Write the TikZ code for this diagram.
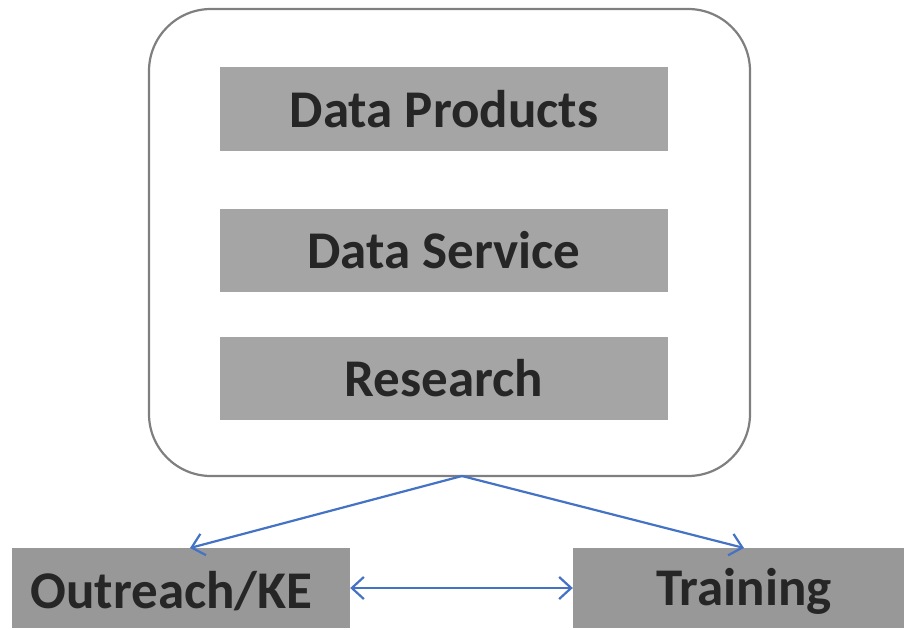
\documentclass[tikz,border=0pt]{standalone}
\usepackage{fontspec}
\setmainfont{Carlito}
\usetikzlibrary{arrows.meta}
\definecolor{boxgray}{HTML}{A5A5A5}
\definecolor{boxgray2}{HTML}{989898}
\definecolor{framegray}{HTML}{7F7F7F}
\definecolor{txt}{HTML}{262626}
\definecolor{arrblue}{HTML}{4472C4}
\tikzset{
  big text/.style={font=\fontsize{53pt}{60pt}\selectfont\bfseries, text=txt},
  inner box/.style={fill=boxgray, draw=none, minimum width=448pt, minimum height=84pt, inner sep=0pt, big text},
  side box/.style={fill=boxgray2, draw=none, minimum height=80pt, inner sep=0pt},
  side text/.style={inner sep=0pt, big text},
  mytip/.tip={Straight Barb[length=12pt,width=22pt,line width=2.2pt]},
  conn/.style={draw=arrblue, line width=2.2pt, -{mytip}},
  conn2/.style={draw=arrblue, line width=2.2pt, {mytip}-{mytip}}
}
\begin{document}
\begin{tikzpicture}[x=1pt,y=-1pt]
\useasboundingbox (0,0) rectangle (904,629);
\node[draw=framegray, line width=2.2pt, rounded corners=62pt, minimum width=601pt, minimum height=467pt, inner sep=0pt] (frame) at (449.5,242.5) {};
\node[inner box] (dp) at (444,109) {Data Products};
\node[inner box, minimum height=83pt] (ds) at (444,250.5) {Data Service};
\node[inner box, minimum height=83pt] (rs) at (444,378.5) {Research};
\node[side box, minimum width=338pt] (ok) at (181,588) {};
\node[side box, minimum width=331pt] (tr) at (738.5,588) {};
\node[side text] (okl) at (171.5,591) {Outreach/KE};
\node[side text] (trl) at (744,591) {Training};
\coordinate (src) at (462,476);
\coordinate (okt) at (190,548);
\coordinate (trt) at (744,548);
\draw[conn] (src) -- (okt);
\draw[conn] (src) -- (trt);
\draw[conn2] (ok.east) -- (tr.west);
\end{tikzpicture}
\end{document}
